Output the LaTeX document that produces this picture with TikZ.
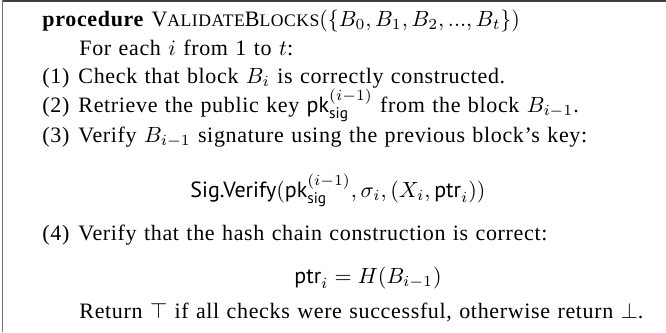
\documentclass[tikz,border=0pt]{standalone}
\usepackage{amsmath}
\usepackage{amssymb}
\usepackage{fontspec}
\setmainfont[LetterSpace=3, WordSpace=1.2]{Liberation Serif}
\newfontfamily\sansfam{PT Sans}
\usepackage{xcolor}
\usepackage{tikz}
\usetikzlibrary{positioning}

\newcommand{\sftext}[1]{\text{\sansfam #1}}
\newcommand{\procname}{V{\footnotesize ALIDATE}B{\footnotesize LOCKS}}

\begin{document}
\begin{tikzpicture}[x=0.4545pt, y=-0.4545pt,
		textline/.style={anchor=base west, inner sep=0pt},
		numlabel/.style={anchor=base west, inner sep=0pt},
		eqline/.style={anchor=base, inner sep=0pt}]

		\useasboundingbox (0,0) rectangle (666,332);

		% frame, only top and left edges are in view
		\draw[black!75, line width=0.7pt] (2,0.8) -- (666,0.8);
		\draw[black!55, line width=0.9pt] (2.5,0) -- (2.5,332);

		\node[textline] (title) at (42,26) {\textbf{procedure} \procname$(\{B_0, B_1, B_2, ..., B_t\})$};
		\node[textline] (foreach) at (79,55) {For each $i$ from 1 to $t$:};

		\foreach \n/\y in {1/83, 2/112, 3/142, 4/240} {
				\node[numlabel] (num\n) at (42,\y) {(\n)};
			}

		\node[textline] (check) at (78,83) {Check that block $B_i$ is correctly constructed.};
		\node[textline] (retrieve) at (78,112) {Retrieve the public key $\sftext{pk}^{(i-1)}_{\sftext{sig}}$ from the block $B_{i-1}$.};
		\node[textline] (verify) at (78,142) {Verify $B_{i-1}$ signature using the previous block's key:};
		\node[eqline] (sigeq) at (338,197) {$\sftext{Sig.Verify}(\sftext{pk}^{(i-1)}_{\sftext{sig}}, \sigma_i, (X_i, \sftext{ptr}_i))$};
		\node[textline] (hash) at (78,240) {Verify that the hash chain construction is correct:};
		\node[eqline] (ptreq) at (368,283) {$\sftext{ptr}_i = H(B_{i-1})$};
		\node[textline] (ret) at (79,318) {Return $\top$ if all checks were successful, otherwise return $\bot$.};
	\end{tikzpicture}
\end{document}
